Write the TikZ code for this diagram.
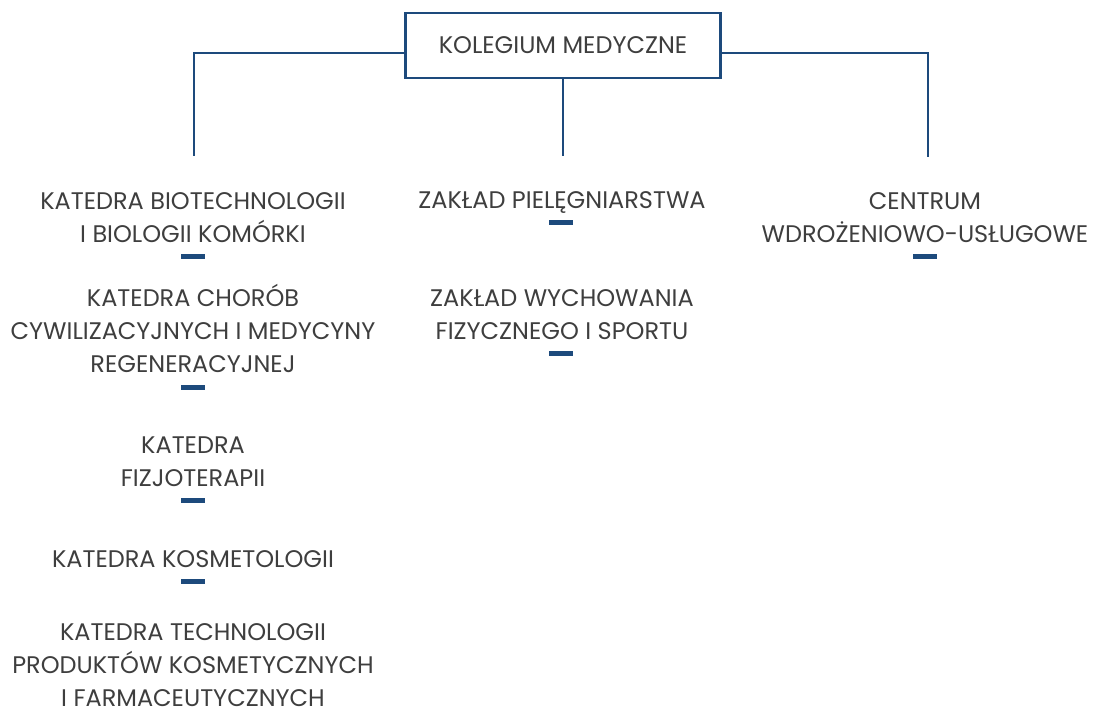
\documentclass[tikz,border=0pt]{standalone}
\usepackage{fontspec}
\setmainfont{Poppins}
\definecolor{kblue}{HTML}{1D4A7C}
\definecolor{kgray}{HTML}{3E3E3E}
\begin{document}
\begin{tikzpicture}[x=1pt,y=-1pt,
  lbl/.style={text=kgray,align=center,inner sep=0pt,anchor=base,font=\fontsize{24}{33}\selectfont},
  bar/.style={fill=kblue,minimum width=24pt,minimum height=5pt,inner sep=0pt,outer sep=0pt},
  conn/.style={draw=kblue,line width=2.4pt}]
\useasboundingbox (0,0) rectangle (1095,717);
\node[draw=kblue,line width=2.8pt,minimum width=315pt,minimum height=65pt,inner sep=0pt,text=kgray,font=\fontsize{24}{33}\selectfont] (top) at (563,45.5) {KOLEGIUM MEDYCZNE};
\coordinate (c1) at (194,156);
\coordinate (c2) at (563,156);
\coordinate (c3) at (928,157);
\draw[conn] (top.west |- 0,53) -| (c1);
\draw[conn] (top.south) -- (c2);
\draw[conn] (top.east |- 0,53) -| (c3);
% column 1
\node[lbl] (a1) at (193,242) {KATEDRA BIOTECHNOLOGII\\I BIOLOGII KOMÓRKI};
\node[bar] (ba1) at (193,256) {};
\node[lbl] (a2) at (193,372) {KATEDRA CHORÓB\\CYWILIZACYJNYCH I MEDYCYNY\\REGENERACYJNEJ};
\node[bar] (ba2) at (193,387) {};
\node[lbl] (a3) at (193,486) {KATEDRA\\FIZJOTERAPII};
\node[bar] (ba3) at (193,500) {};
\node[lbl] (a4) at (193,567) {KATEDRA KOSMETOLOGII};
\node[bar] (ba4) at (193,581) {};
\node[lbl] (a5) at (193,706) {KATEDRA TECHNOLOGII\\PRODUKTÓW KOSMETYCZNYCH\\I FARMACEUTYCZNYCH};
% column 2
\node[lbl] (b1) at (562,208) {ZAKŁAD PIELĘGNIARSTWA};
\node[bar] (bb1) at (561,222) {};
\node[lbl] (b2) at (562,339) {ZAKŁAD WYCHOWANIA\\FIZYCZNEGO I SPORTU};
\node[bar] (bb2) at (561,353) {};
% column 3
\node[lbl] (d1) at (925,242) {CENTRUM\\WDROŻENIOWO-USŁUGOWE};
\node[bar] (bd1) at (925,256) {};
\end{tikzpicture}
\end{document}
